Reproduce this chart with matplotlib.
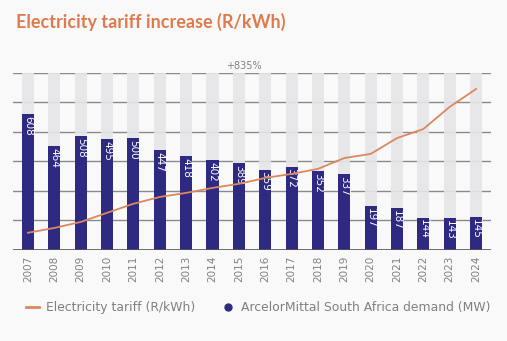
import matplotlib
matplotlib.use("Agg")
import matplotlib.pyplot as plt
import numpy as np
from matplotlib.lines import Line2D

years = [str(y) for y in range(2007, 2025)]
demand_mw = [608, 464, 508, 495, 500, 447, 418, 402, 389, 359, 372, 352, 337, 197, 187, 144, 143, 145]
tariff = [0.19, 0.243, 0.309, 0.41, 0.51, 0.585, 0.63, 0.685, 0.73, 0.795, 0.84, 0.895,
          1.015, 1.06, 1.235, 1.335, 1.58, 1.777]

bg = "#f9f9f9"
navy = "#2e2a82"
orange = "#dc875f"
grey_bar = "#e6e6e8"
txt_grey = "#808080"

fig = plt.figure(figsize=(5.07, 3.41), dpi=100, facecolor=bg)
ax = fig.add_axes([0.0256, 0.267, 0.943, 0.519])
ax.set_facecolor(bg)
x = np.arange(len(years))
ymax = 790
ax.set_xlim(-0.57, len(years) - 1 + 0.57)
ax.set_ylim(0, ymax)

# gridlines
for gy in np.linspace(0, ymax, 7)[1:]:
    ax.axhline(gy, color="#8a8a8a", lw=1.0, zorder=0)

ax.bar(x, [ymax] * len(x), width=0.46, color=grey_bar, zorder=1, alpha=0.9)
bars = ax.bar(x, demand_mw, width=0.46, color=navy, zorder=2)
for xi, v in zip(x, demand_mw):
    ax.text(xi, v - 8, str(v), rotation=-90, rotation_mode="anchor", ha="left",
            va="center", color="white", fontsize=7.5, zorder=3)

ax.axhline(0, color="#555555", lw=1.2, zorder=4)
for s in ax.spines.values():
    s.set_visible(False)
ax.set_yticks([])
ax.set_xticks(x)
ax.set_xticklabels(years, rotation=90, fontsize=7.5, color=txt_grey)
ax.tick_params(axis="x", length=0, pad=4)

ax2 = ax.twinx()
ax2.set_ylim(0, 1.954)
ax2.plot(x, tariff, color=orange, lw=1.3, zorder=5)
ax2.set_yticks([])
for s in ax2.spines.values():
    s.set_visible(False)

fig.text(0.032, 0.935, "Electricity tariff increase (R/kWh)", color="#e07a4c",
         fontsize=13, fontweight="bold", family="Lato", ha="left", va="center")
fig.text(0.48, 0.805, "+835%", color=txt_grey, fontsize=7, ha="center", va="center")

handles = [Line2D([0], [0], color=orange, lw=2),
           Line2D([0], [0], marker="o", color="none", markerfacecolor=navy,
                  markeredgecolor=navy, markersize=5)]
leg = fig.legend(handles, ["Electricity tariff (R/kWh)", "ArcelorMittal South Africa demand (MW)"],
                 loc="center left", bbox_to_anchor=(0.03, 0.097), ncol=2, frameon=False,
                 fontsize=8.9, handlelength=1.0, handletextpad=0.6, columnspacing=2.1)
for t in leg.get_texts():
    t.set_color(txt_grey)

fig.savefig("out.png", dpi=100, facecolor=bg)
